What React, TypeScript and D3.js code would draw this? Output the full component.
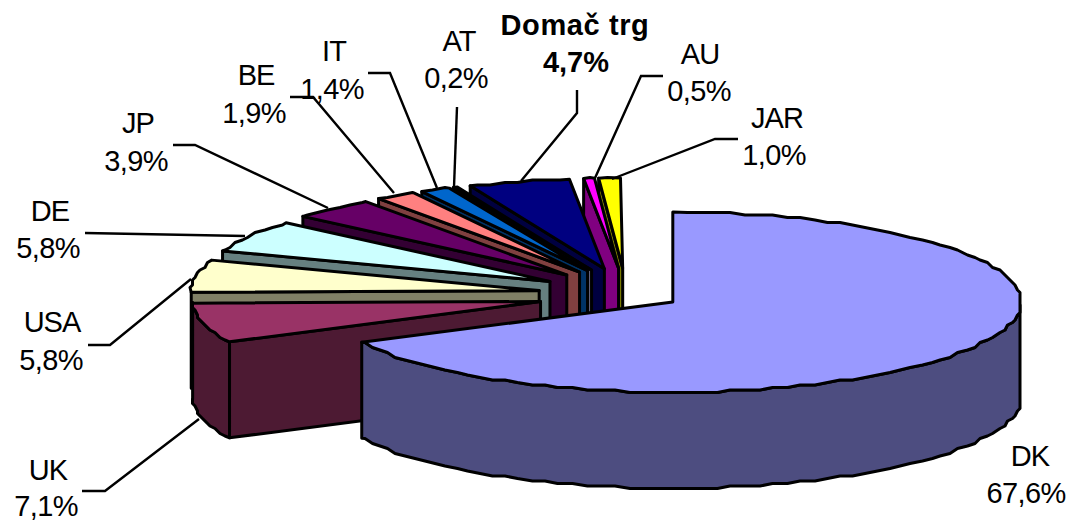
import React from "react";
import * as d3 from "d3";

// Export share by market, in percent, clockwise from twelve o'clock.
const markets = ["DK", "UK", "USA", "DE", "JP", "BE", "IT", "AT", "Domač trg", "AU", "JAR"];
const shares = [67.6, 7.1, 5.8, 5.8, 3.9, 1.9, 1.4, 0.2, 4.7, 0.5, 1.0];
const shareLabels = ["67,6%", "7,1%", "5,8%", "5,8%", "3,9%", "1,9%", "1,4%", "0,2%", "4,7%", "0,5%", "1,0%"];
const topColors = ["#9999FF", "#993366", "#FFFFCC", "#CCFFFF", "#660066", "#FF8080", "#0066CC", "#CCCCFF", "#000080", "#FF00FF", "#FFFF00"];

// Page layout of the labels: name anchor, value anchor (x, baseline).
const labelAnchors: number[][] = [
  [1030, 466, 1026, 503],
  [48, 480, 46, 516],
  [52, 332, 51, 370],
  [50, 221, 48, 258],
  [138, 133, 136, 171],
  [256, 85, 254, 123],
  [334, 61, 332, 99],
  [459, 51, 456, 88],
  [575, 35, 576, 72],
  [700, 64, 699, 101],
  [777, 128, 774, 165],
];
const leaderRoutes: [number, number][][] = [
  [],
  [[82, 491], [105, 491], [199, 419]],
  [[88, 345], [110, 345], [191, 279]],
  [[85, 233], [245, 236]],
  [[173, 145], [195, 145], [328, 208]],
  [[290, 97], [313, 97], [394, 193]],
  [[368, 73], [390, 73], [437, 188]],
  [[457, 107], [454, 187]],
  [[577, 90], [577, 113], [521, 181]],
  [[663, 76], [641, 76], [595, 178]],
  [[738, 139], [715, 139], [612, 179]],
];

const RX = 348;
const RY = 90;
const DEPTH = 96;
const HUB_X = 626;
const HUB_Y = 295;
const PULL_MAIN_X = 55;
const PULL_MAIN_Y = 11.4;
const PULL_REST_X = 88;
const PULL_REST_Y = 27;
const SAMPLE_STEP = (2.4 * Math.PI) / 180;
const SNAP = 2.5;
const TOTAL_PERCENT = d3.sum(shares);

type Pt = [number, number];

// One percent is always 3.6 degrees, so the rounded shares leave a hairline unused.
const pieLayout = d3
  .pie<number>()
  .sort(null)
  .startAngle(0)
  .endAngle((2 * Math.PI * TOTAL_PERCENT) / 100);
const arcs = pieLayout(shares);
const line = d3.line<Pt>();
const closed = (pts: Pt[]) => (line(pts) as string) + "Z";
const shade = (c: string) => {
  const { r, g, b } = d3.rgb(c);
  return d3.rgb(r / 2, g / 2, b / 2).formatHex();
};
const snap = (v: number) => Math.round(v / SNAP) * SNAP;

// Rim of a slice, as a coarse polyline: the vertices sit on a fixed angular
// grid and are snapped to a small raster, which gives the rim its rough edge.
function rimAngles(a0: number, a1: number): number[] {
  const out = [a0];
  let a = Math.ceil(a0 / SAMPLE_STEP + 1e-6) * SAMPLE_STEP;
  for (; a < a1 - 1e-6; a += SAMPLE_STEP) out.push(a);
  out.push(a1);
  return out;
}

function Slice({ i }: { i: number }) {
  const d = arcs[i];
  const mid = (d.startAngle + d.endAngle) / 2;
  const tipX = HUB_X + (i === 0 ? PULL_MAIN_X : PULL_REST_X) * Math.sin(mid);
  const tipY = HUB_Y - (i === 0 ? PULL_MAIN_Y : PULL_REST_Y) * Math.cos(mid) + (i === 0 ? 1 : 0);
  const rimPoint = (a: number, exact: boolean): Pt => {
    const x = tipX + RX * Math.sin(a);
    const y = tipY - RY * Math.cos(a);
    return exact ? [x, y] : [snap(x), snap(y)];
  };
  const angles = rimAngles(d.startAngle, d.endAngle);
  const rim = angles.map((a, k) => rimPoint(a, k === 0 || k === angles.length - 1));
  const tip: Pt = [tipX, tipY];
  const drop = (p: Pt): Pt => [p[0], p[1] + DEPTH];

  // Only the part of the rim on the near half of the ellipse shows a wall.
  const frontIdx = angles.map((a, k) => (Math.cos(a) <= 0.02 ? k : -1)).filter((k) => k >= 0);
  const frontRim = frontIdx.map((k) => rim[k]);
  const side = shade(topColors[i]);
  const common = { stroke: "#000", strokeWidth: 3, strokeLinejoin: "round" as const };

  return (
    <g>
      {i > 0 && <path d={closed([tip, rim[0], drop(rim[0]), drop(tip)])} fill={side} {...common} />}
      {frontRim.length > 1 && (
        <path d={closed([...frontRim, ...frontRim.map(drop).reverse()])} fill={side} {...common} />
      )}
      <path d={closed([tip, ...rim])} fill={topColors[i]} {...common} />
    </g>
  );
}

export default function App() {
  // Painted back to front: the smallest slices behind, the large slice last.
  const order = d3.range(1, markets.length).reverse().concat(0);
  const textStyle = { fontFamily: "'Liberation Sans', Arial, sans-serif", fontSize: 29, fill: "#000" };
  return (
    <svg width={1068} height={521} style={{ position: "absolute", left: 0, top: 0, display: "block" }}>
      {order.map((i) => (
        <Slice key={markets[i]} i={i} />
      ))}
      {leaderRoutes.map((r, i) =>
        r.length ? <path key={i} d={line(r) as string} fill="none" stroke="#000" strokeWidth={2.4} /> : null
      )}
      {markets.map((m, i) => {
        const [nx, ny, vx, vy] = labelAnchors[i];
        const bold = m === "Domač trg";
        return (
          <g key={m} textAnchor="middle" fontWeight={bold ? 700 : 400} style={textStyle}>
            <text x={nx} y={ny} letterSpacing={bold ? 0.6 : -1}>{m}</text>
            <text x={vx} y={vy} letterSpacing={bold ? 0 : -0.6}>{shareLabels[i]}</text>
          </g>
        );
      })}
    </svg>
  );
}
